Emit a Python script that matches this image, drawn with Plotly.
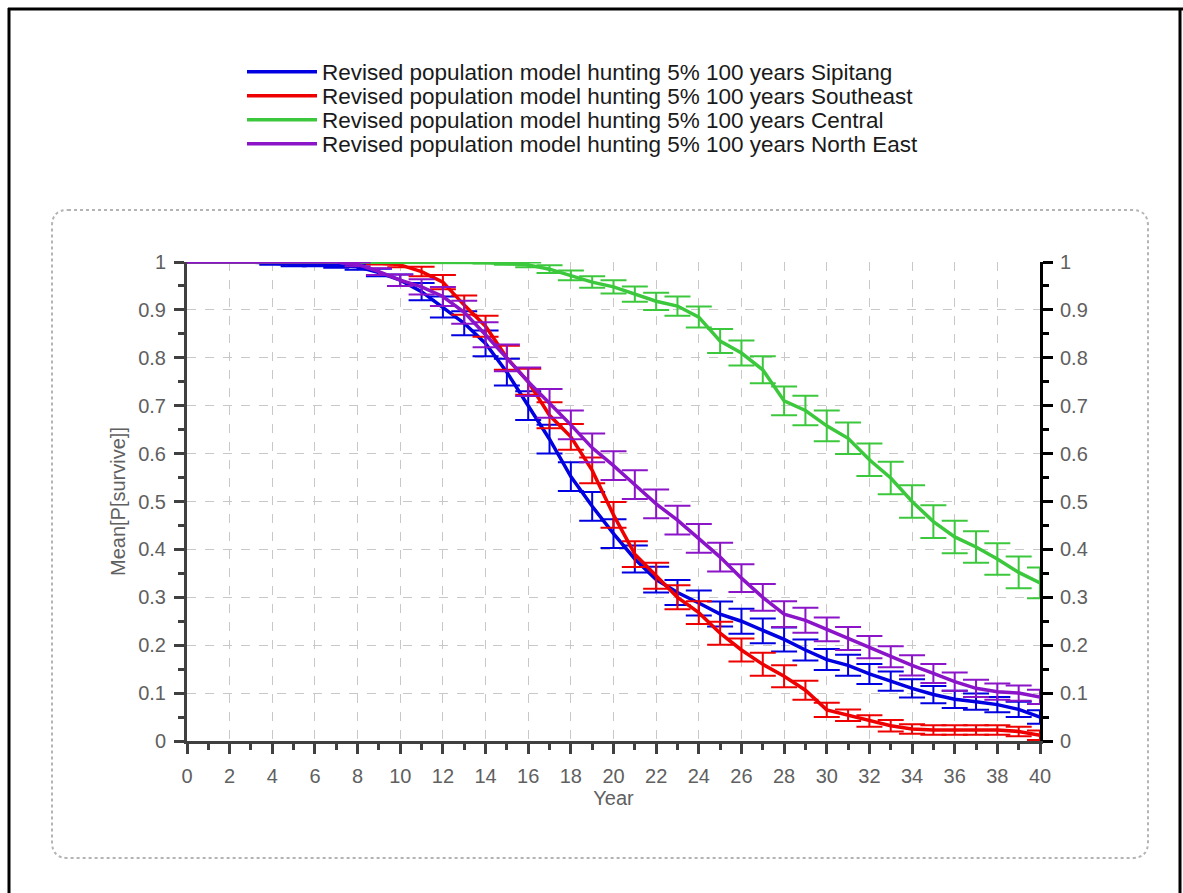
import plotly.graph_objects as go

years = list(range(0, 41))

names = [
    "Revised population model hunting 5% 100 years Sipitang",
    "Revised population model hunting 5% 100 years Southeast",
    "Revised population model hunting 5% 100 years Central",
    "Revised population model hunting 5% 100 years North East",
]
colors = ["#0000e0", "#ee0000", "#3cc83c", "#8c14c8"]

sipitang = [1.0, 1.0, 1.0, 1.0, 0.998, 0.995, 0.995, 0.993, 0.99, 0.978,
            0.962, 0.938, 0.906, 0.872, 0.83, 0.77, 0.70, 0.63, 0.552, 0.49,
            0.433, 0.38, 0.337, 0.31, 0.288, 0.265, 0.25, 0.23, 0.212, 0.19,
            0.17, 0.158, 0.14, 0.125, 0.11, 0.097, 0.087, 0.082, 0.076, 0.066,
            0.05]
sipitang_err = [0, 0, 0, 0, 0.004, 0.004, 0.004, 0.005, 0.006, 0.008,
                0.012, 0.018, 0.022, 0.025, 0.027, 0.028, 0.03, 0.03, 0.03, 0.03,
                0.03, 0.028, 0.027, 0.026, 0.026, 0.026, 0.026, 0.026, 0.025, 0.022,
                0.022, 0.022, 0.021, 0.02, 0.019, 0.018, 0.018, 0.017, 0.016, 0.016,
                0.014]

southeast = [1.0, 1.0, 1.0, 1.0, 1.0, 1.0, 1.0, 1.0, 1.0, 0.998,
             0.994, 0.98, 0.958, 0.91, 0.866, 0.80, 0.75, 0.68, 0.635, 0.565,
             0.472, 0.39, 0.345, 0.30, 0.268, 0.225, 0.19, 0.16, 0.135, 0.106,
             0.065, 0.054, 0.042, 0.032, 0.025, 0.023, 0.023, 0.023, 0.023, 0.02,
             0.012]
southeast_err = [0, 0, 0, 0, 0, 0, 0, 0, 0, 0.003,
                 0.005, 0.01, 0.015, 0.02, 0.022, 0.025, 0.027, 0.027, 0.027, 0.027,
                 0.027, 0.027, 0.027, 0.025, 0.024, 0.024, 0.024, 0.024, 0.023, 0.02,
                 0.015, 0.012, 0.012, 0.012, 0.01, 0.01, 0.01, 0.01, 0.01, 0.01,
                 0.01]

central = [1.0, 1.0, 1.0, 1.0, 1.0, 1.0, 1.0, 1.0, 1.0, 1.0,
           1.0, 1.0, 1.0, 1.0, 0.999, 0.997, 0.994, 0.985, 0.972, 0.958,
           0.948, 0.933, 0.918, 0.908, 0.885, 0.835, 0.81, 0.775, 0.71, 0.69,
           0.658, 0.632, 0.587, 0.549, 0.50, 0.458, 0.426, 0.405, 0.38, 0.352,
           0.33]
central_err = [0, 0, 0, 0, 0, 0, 0, 0, 0, 0,
               0, 0, 0, 0, 0.002, 0.003, 0.005, 0.008, 0.01, 0.012,
               0.014, 0.016, 0.018, 0.02, 0.022, 0.025, 0.026, 0.028, 0.03, 0.031,
               0.032, 0.033, 0.034, 0.034, 0.034, 0.034, 0.034, 0.033, 0.033, 0.033,
               0.032]

northeast = [1.0, 1.0, 1.0, 1.0, 1.0, 1.0, 1.0, 1.0, 0.995, 0.98,
             0.962, 0.948, 0.928, 0.895, 0.848, 0.80, 0.75, 0.705, 0.66, 0.612,
             0.575, 0.535, 0.495, 0.461, 0.423, 0.384, 0.34, 0.30, 0.265, 0.252,
             0.233, 0.214, 0.196, 0.176, 0.158, 0.141, 0.124, 0.11, 0.103, 0.10,
             0.092]
northeast_err = [0, 0, 0, 0, 0, 0, 0, 0, 0.004, 0.007,
                 0.012, 0.016, 0.02, 0.024, 0.026, 0.028, 0.03, 0.03, 0.03, 0.03,
                 0.03, 0.03, 0.03, 0.03, 0.03, 0.03, 0.029, 0.028, 0.027, 0.026,
                 0.025, 0.024, 0.023, 0.022, 0.021, 0.02, 0.019, 0.018, 0.017, 0.016,
                 0.015]

series = [sipitang, southeast, central, northeast]
errors = [sipitang_err, southeast_err, central_err, northeast_err]

W, H = 1183, 893
L, R, T, B = 187, 143, 262, 152


def px_x(p):
    return (p - L) / (W - L - R)


def px_y(p):
    return (H - B - p) / (H - T - B)


legend_ids = ["legend", "legend2", "legend3", "legend4"]
legend_rows = [72, 96, 120, 144]

fig = go.Figure()
for name, col, ys, es, lg in zip(names, colors, series, errors, legend_ids):
    fig.add_trace(go.Scatter(
        x=years, y=ys, name=name, mode="lines", legend=lg,
        line=dict(color=col, width=3.5),
        error_y=dict(type="data", array=es, visible=True, color=col,
                     thickness=2, width=13),
        cliponaxis=False,
    ))

# invisible trace to display right-hand axis
fig.add_trace(go.Scatter(x=[0], y=[0], yaxis="y2", mode="markers",
                         marker=dict(opacity=0), showlegend=False,
                         hoverinfo="skip"))

tickfont = dict(family="Liberation Sans, Arial, sans-serif", size=20, color="#606060")
legfont = dict(family="Liberation Sans, Arial, sans-serif", size=22.5, color="#1a1a1a")

# rounded panel path
x0, x1 = px_x(52), px_x(1148)
y0, y1 = px_y(858), px_y(210)
rx = 16 / (W - L - R)
ry = 16 / (H - T - B)
path = (f"M {x0+rx},{y1} L {x1-rx},{y1} Q {x1},{y1} {x1},{y1-ry} "
        f"L {x1},{y0+ry} Q {x1},{y0} {x1-rx},{y0} "
        f"L {x0+rx},{y0} Q {x0},{y0} {x0},{y0+ry} "
        f"L {x0},{y1-ry} Q {x0},{y1} {x0+rx},{y1} Z")

shapes = [
    dict(type="path", xref="paper", yref="paper", path=path,
         line=dict(color="#b4b4b4", width=2, dash="dot"), layer="below"),
    dict(type="line", xref="paper", yref="paper",
         x0=px_x(9), x1=px_x(9), y0=px_y(8), y1=px_y(893),
         line=dict(color="black", width=3)),
    dict(type="line", xref="paper", yref="paper",
         x0=px_x(8), x1=px_x(1183), y0=px_y(9), y1=px_y(9),
         line=dict(color="black", width=3)),
    dict(type="line", xref="paper", yref="paper",
         x0=px_x(1180), x1=px_x(1180), y0=px_y(8), y1=px_y(893),
         line=dict(color="black", width=3)),
]

layout_legends = {}
for lg, row in zip(legend_ids, legend_rows):
    layout_legends[lg] = dict(
        x=px_x(242), y=px_y(row), xanchor="left", yanchor="middle",
        font=legfont, itemwidth=70, bgcolor="rgba(0,0,0,0)")

fig.update_layout(
    width=W, height=H,
    margin=dict(l=L, r=R, t=T, b=B),
    paper_bgcolor="white", plot_bgcolor="white",
    showlegend=True,
    **layout_legends,
    xaxis=dict(
        range=[0, 40], tickmode="linear", tick0=0, dtick=2,
        ticks="outside", ticklen=10, tickwidth=3, tickcolor="#404040",
        showline=True, linecolor="#404040", linewidth=3,
        showgrid=True, gridcolor="#c8c8c8", griddash="dash", gridwidth=1,
        zeroline=False, tickfont=tickfont, ticklabelstandoff=5,
        minor=dict(dtick=1, ticks="outside", ticklen=6, tickwidth=3,
                   tickcolor="#404040", showgrid=False),
        title=dict(text="Year", font=tickfont, standoff=4),
    ),
    yaxis=dict(
        range=[0, 1], tickmode="linear", tick0=0, dtick=0.1,
        ticks="outside", ticklen=10, tickwidth=3, tickcolor="#404040",
        showline=True, linecolor="#404040", linewidth=3,
        showgrid=True, gridcolor="#c8c8c8", griddash="dash", gridwidth=1,
        zeroline=False, tickfont=tickfont, ticklabelstandoff=4,
        minor=dict(dtick=0.05, ticks="outside", ticklen=6, tickwidth=3,
                   tickcolor="#404040", showgrid=False),
        title=dict(text="Mean[P[survive]]", font=tickfont, standoff=8),
    ),
    yaxis2=dict(
        overlaying="y", side="right", range=[0, 1], tickmode="linear",
        tick0=0, dtick=0.1, ticks="outside", ticklen=10, tickwidth=3,
        tickcolor="black", showline=True, linecolor="black", linewidth=3,
        showgrid=False, zeroline=False, tickfont=tickfont, ticklabelstandoff=3,
        minor=dict(dtick=0.05, ticks="outside", ticklen=6, tickwidth=3,
                   tickcolor="black", showgrid=False),
    ),
    shapes=shapes,
)

fig.write_html("out.html")
